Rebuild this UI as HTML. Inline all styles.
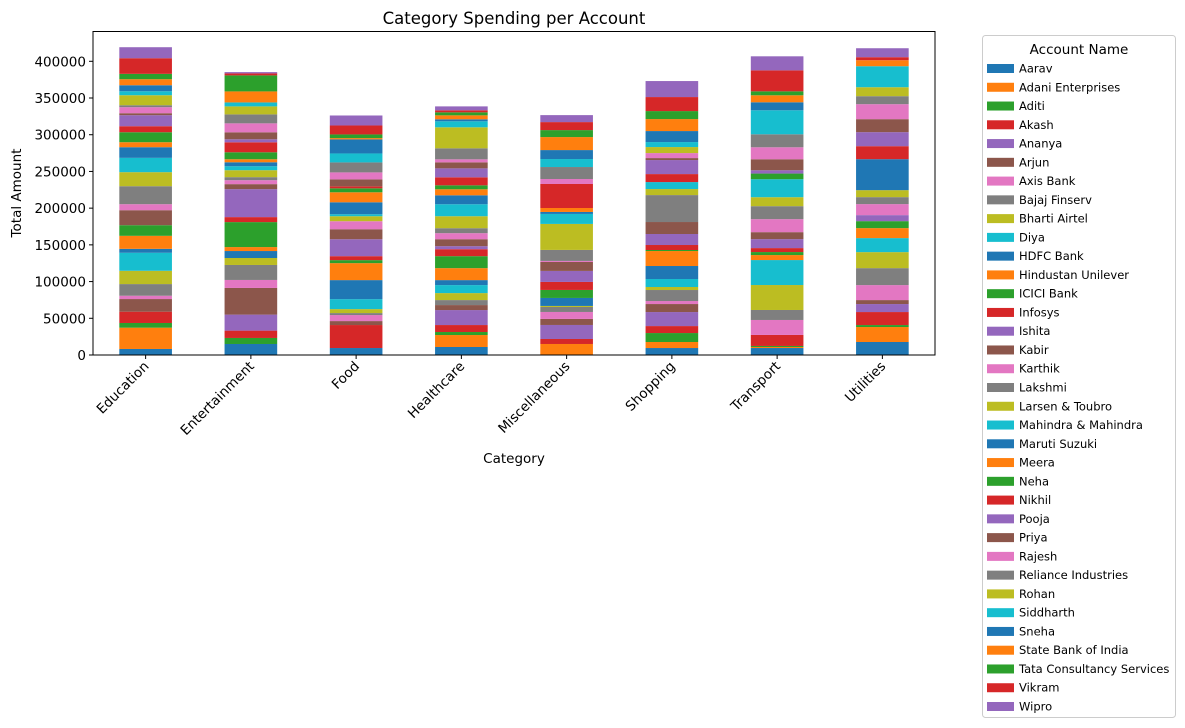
<!DOCTYPE html>
<html><head><meta charset="utf-8"><style>
html,body{margin:0;padding:0;background:#fff;}
svg{display:block;font-family:"DejaVu Sans","Liberation Sans",sans-serif;}
</style></head><body>
<svg id="chart" width="1185" height="728" viewBox="0 0 1185 728">
<text x="514" y="24" text-anchor="middle" font-size="16.5" fill="#000">Category Spending per Account</text>
<g id="plot"></g>
<text transform="translate(21,193) rotate(-90)" text-anchor="middle" font-size="13.5" fill="#000">Total Amount</text>
<text x="514" y="463" text-anchor="middle" font-size="13.5" fill="#000">Category</text>
<g id="legend"></g>
</svg>
<script>
const categories = ["Education","Entertainment","Food","Healthcare","Miscellaneous","Shopping","Transport","Utilities"];
const accounts = ["Aarav","Adani Enterprises","Aditi","Akash","Ananya","Arjun","Axis Bank","Bajaj Finserv","Bharti Airtel","Diya","HDFC Bank","Hindustan Unilever","ICICI Bank","Infosys","Ishita","Kabir","Karthik","Lakshmi","Larsen & Toubro","Mahindra & Mahindra","Maruti Suzuki","Meera","Neha","Nikhil","Pooja","Priya","Rajesh","Reliance Industries","Rohan","Siddharth","Sneha","State Bank of India","Tata Consultancy Services","Vikram","Wipro"];
const educationK = [8.2,29,6.4,15.4,0,17.2,4.5,15.9,18.1,24.5,5.4,17.7,14.5,0,0,20.4,8.2,24.5,19.1,19.5,14.5,6.8,13.6,8.2,15,2.7,8.2,2.7,13.6,5.4,8.2,8.2,7.3,21.3,15];
const entertainmentK = [15,0,8.2,10,21.8,36.3,10.9,20.4,9.5,0,9.5,5.4,34,6.8,38.1,6.8,5.4,4.1,9.5,5.4,5.4,4.1,9.5,13.6,4.1,9.5,12.2,12.2,10.9,5.4,0,15,21.8,2.7,1.8];
const foodK = [9.5,0,0,31.3,0,5.4,8.2,2.7,5.4,13.6,25.9,23.1,4.1,5.4,23.1,13.6,10.9,0,6.8,2.7,16.3,13.6,5.4,2.7,0,9.5,9.5,13.6,0,12.2,19.1,1.8,5,12.2,13.6];
const healthcareK = [10.9,16.3,4.1,9.5,20.4,6.8,0,6.8,9.5,10.9,6.8,16.3,16.3,9.5,4.1,9.5,8.2,6.8,16.3,16.3,12.2,8.2,5.4,10.9,12.2,8.2,4.1,15,28.6,8.2,2.7,5.4,4.1,2.7,5.4];
const miscK = [0,15,0,6.8,19.1,8.2,9.5,6.8,1.4,0,10.9,0,10.9,10.9,15,12.2,1.4,15,35.4,13.6,2.7,5.4,0,32.7,0,0,6.8,16.3,0,10.9,12.2,17.7,9.5,10.9,9.5];
const shoppingK = [9.5,8.2,12.2,9.5,19.1,10.9,4.1,15,4.1,10.9,17.7,20.4,1.4,6.8,15,16.3,0,36.7,8.2,9.5,0,0,0,10.9,19.1,2.7,6.8,0,8.2,6.8,15,16.3,10.9,19.1,21.8];
const transportK = [9.5,1.4,1.4,15,0,0,20.4,13.6,34,34,0,6.8,4.1,5.4,12.2,9.5,17.7,17.7,12.2,24.5,0,0,7.7,0,4.5,15,16.3,17.7,0,32.7,10.9,9.5,5.4,28.6,19.1];
const utilitiesK = [17.7,20.4,2.7,17.7,10.9,5.4,20.4,23.1,21.8,19.1,0,13.6,9.5,0,8.2,0,15,9.5,9.5,0,42.2,0,0,17.7,19.1,17.7,20.4,10.9,12.2,28.6,0,8.2,0,4.1,12.2];
const yTicks = [0,50000,100000,150000,200000,250000,300000,350000,400000];

const seriesByCat = [educationK,entertainmentK,foodK,healthcareK,miscK,shoppingK,transportK,utilitiesK];
const palette = ["#1f77b4","#ff7f0e","#2ca02c","#d62728","#9467bd","#8c564b","#e377c2","#7f7f7f","#bcbd22","#17becf"];
const NS = "http://www.w3.org/2000/svg";
const L = 93, R = 935, T = 31.5, B = 355;
const yMax = (B - T) / (355 - 61.3) * 400000;
function yScale(v){ return B - v / yMax * (B - T); }
const band = (R - L) / categories.length;
function xCenter(i){ return L + band * (i + 0.5); }
const barW = band * 0.5;
function mk(tag, attrs, parent){ const e = document.createElementNS(NS, tag); for (const k in attrs) e.setAttribute(k, attrs[k]); parent.appendChild(e); return e; }

const plot = document.getElementById("plot");
categories.forEach((c, ci) => {
  let acc = 0;
  const vals = seriesByCat[ci];
  accounts.forEach((a, ai) => {
    const v = vals[ai] * 1000;
    if (v <= 0) return;
    const y0 = yScale(acc), y1 = yScale(acc + v);
    const r = mk("rect", {x: xCenter(ci) - barW/2, y: y1, width: barW, height: y0 - y1, fill: palette[ai % 10]}, plot);
    
    
    acc += v;
  });
  const tk = mk("line", {x1: xCenter(ci), x2: xCenter(ci), y1: B, y2: B + 4, stroke: "#000", "stroke-width": 1}, plot);
  
  
  const t = mk("text", {transform: `translate(${xCenter(ci)+4},${B + 12}) rotate(-45)`, "text-anchor": "end", "font-size": "13.5"}, plot);
  t.textContent = c;
  
  
});
yTicks.forEach(v => {
  const y = yScale(v);
  const tk = mk("line", {x1: L - 4, x2: L, y1: y, y2: y, stroke: "#000", "stroke-width": 1}, plot);
  
  
  const t = mk("text", {x: L - 7, y: y + 5, "text-anchor": "end", "font-size": "13.5"}, plot);
  t.textContent = String(v);
  
  
});
const frame = mk("rect", {x: L, y: T, width: R - L, height: B - T, fill: "none", stroke: "#000", "stroke-width": 1}, plot);



const lg = document.getElementById("legend");
const box = mk("rect", {x: 982.5, y: 35.5, width: 193, height: 682, rx: 3, fill: "#fff", stroke: "#ccc", "stroke-width": 1}, lg);


const lt = mk("text", {x: 1079, y: 54, "text-anchor": "middle", "font-size": "13.5"}, lg);
lt.textContent = "Account Name";


const step = (706 - 68) / 34;
accounts.forEach((a, ai) => {
  const cy = 68 + ai * step;
  const g = mk("g", {}, lg);
  
  
  mk("rect", {x: 987, y: cy - 4, width: 27, height: 9, fill: palette[ai % 10]}, g);
  const t = mk("text", {x: 1019, y: cy + 4.5, "font-size": "11.5"}, g);
  t.textContent = a;
});
</script>
</body></html>
